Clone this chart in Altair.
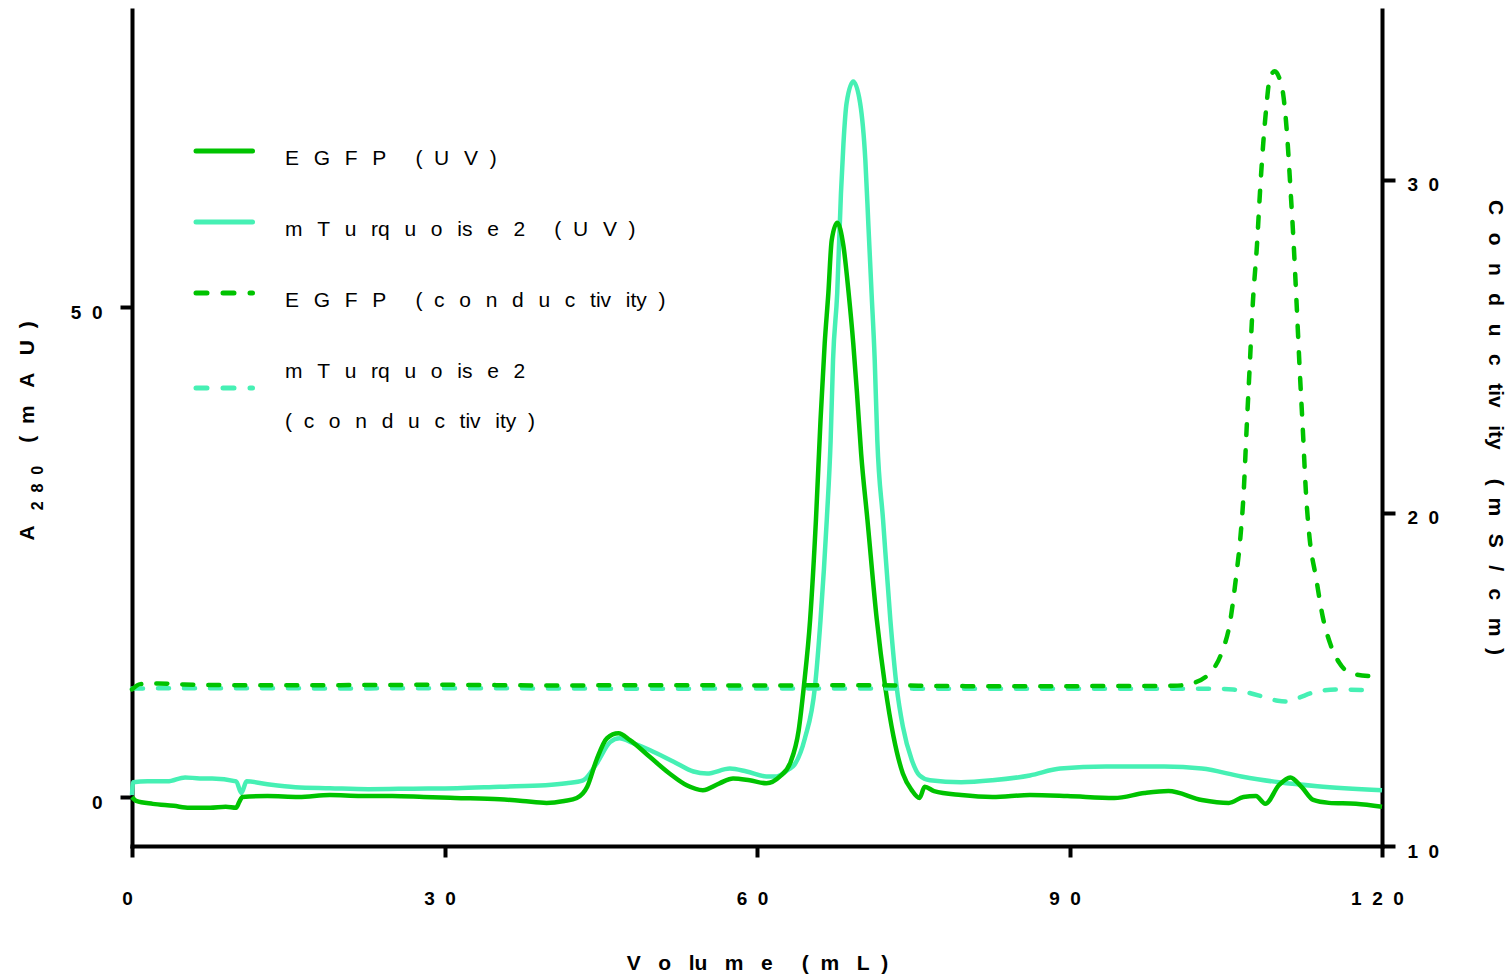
import altair as alt
import pandas as pd

# ---- elution traces -------------------------------------------------------
# EGFP absorbance at 280 nm (mAU) vs elution volume (mL)
egfp_uv_volume = [0.0, 0.4, 2.0, 4.0, 5.5, 7.5, 9.0, 10.0, 10.3, 10.6, 13, 16, 19, 22, 25, 28, 31,
                  35.3, 37.5, 39.8, 41.5, 42.7, 43.7, 44.6, 45.6, 46.7, 47.8, 49.7, 51.6, 53.25,
                  54.8, 56.4, 57.7, 59.3, 60.9, 62.2, 63.2, 64.0, 64.5, 65.1, 65.66, 66.1, 66.5,
                  66.85, 67.17, 67.7, 68.3, 68.8, 69.24, 69.6, 70.0, 70.6, 71.5, 72.3, 73.1, 74.0,
                  74.85, 75.6, 76.1, 77.0, 79.6, 82.6, 86.2, 89.8, 94.3, 97.2, 99.5, 102.7, 105.3,
                  106.7, 107.9, 108.8, 110.1, 111.2, 112.3, 113.4, 114.9, 117.5, 120.0]
egfp_uv_mau = [0.0, -0.4, -0.7, -0.9, -1.1, -1.1, -1.0, -1.1, -0.5, 0.0, 0.1, 0.0, 0.2, 0.1, 0.1,
               0.0, -0.1, -0.24, -0.4, -0.6, -0.4, -0.1, 1.05, 3.8, 6.0, 6.5, 5.8, 4.1, 2.4, 1.2,
               0.7, 1.4, 1.9, 1.7, 1.4, 2.1, 3.5, 6.8, 11.3, 18.1, 28.3, 38.5, 46.3, 51.4, 56.8,
               58.6, 56.2, 51.4, 46.3, 41.2, 35.0, 28.3, 18.1, 11.3, 6.2, 2.4, 0.7, -0.1, 1.05,
               0.6, 0.2, 0.0, 0.2, 0.1, -0.1, 0.4, 0.6, -0.3, -0.6, 0.0, 0.1, -0.7, 1.2, 2.0, 1.0,
               -0.3, -0.6, -0.7, -1.0]

# mTurquoise2 absorbance at 280 nm (mAU)
mturq_uv_volume = [0.0, 0.1, 1.5, 3.4, 5.1, 6.5, 7.7, 10.0, 10.5, 11.0, 13, 15.7, 19, 22.7, 27,
                   31.2, 35.3, 39.7, 41.7, 43.3, 44.6, 45.9, 46.8, 48.1, 49.7, 52.0, 53.9, 55.2,
                   57.4, 59.0, 60.9, 61.9, 63.0, 63.6, 64.6, 65.57, 66.1, 66.7, 67.07, 67.3, 67.7,
                   68.06, 68.3, 68.6, 69.24, 69.9, 70.4, 70.7, 71.0, 71.3, 71.55, 72.1, 72.8, 73.4,
                   74.0, 74.85, 75.6, 76.6, 79.6, 82.6, 86.2, 89.1, 93.5, 99.1, 102.7, 106.5,
                   110.1, 113.8, 120.0]
mturq_uv_mau = [0.2, 1.5, 1.6, 1.6, 2.0, 1.9, 1.9, 1.6, 0.4, 1.6, 1.3, 1.0, 0.9, 0.8, 0.85, 0.9,
                1.05, 1.2, 1.4, 1.7, 3.4, 5.6, 6.0, 5.5, 4.8, 3.6, 2.6, 2.4, 2.9, 2.6, 2.1, 2.1,
                2.8, 3.3, 6.0, 11.3, 18.1, 28.3, 36.4, 44.6, 51.4, 61.6, 66.7, 70.8, 73.0, 70.8,
                65.0, 58.2, 51.4, 44.6, 36.4, 28.3, 18.1, 11.3, 7.2, 3.8, 2.2, 1.7, 1.5, 1.7, 2.2,
                2.9, 3.1, 3.1, 2.9, 2.1, 1.5, 1.1, 0.7]

# EGFP conductivity (mS/cm)
egfp_cond_volume = [0.0, 0.8, 2.5, 5, 10, 20, 30, 40, 50, 60, 70, 80, 90, 100, 101.6, 103.5,
                    104.6, 105.4, 106.0, 106.4, 106.7, 107.0, 107.3, 107.6, 108.0, 108.3, 108.6,
                    108.9, 109.2, 109.7, 110.2, 110.5, 110.9, 111.2, 111.5, 111.8, 112.1, 112.4,
                    112.7, 113.0, 113.7, 114.3, 115.0, 115.9, 116.9, 118.8]
egfp_cond_mscm = [14.70, 14.86, 14.88, 14.85, 14.83, 14.83, 14.84, 14.82, 14.83, 14.82, 14.83,
                  14.80, 14.80, 14.81, 14.87, 15.2, 15.8, 16.7, 18.1, 19.25, 20.5, 22.5, 24.4,
                  26.3, 28.05, 29.7, 31.1, 32.2, 33.0, 33.26, 33.0, 32.6, 31.3, 29.8, 28.2, 26.3,
                  24.3, 22.5, 20.6, 19.4, 18.0, 16.9, 16.1, 15.5, 15.2, 15.1]

# mTurquoise2 conductivity (mS/cm)
mturq_cond_volume = [0, 10, 20, 30, 40, 50, 60, 70, 80, 90, 100, 104, 105.7, 107.2, 108.5, 110.0,
                     110.8, 112.0, 113.3, 115.6, 118.8]
mturq_cond_mscm = [14.73, 14.74, 14.73, 14.74, 14.73, 14.72, 14.73, 14.73, 14.72, 14.72, 14.72,
                   14.72, 14.70, 14.60, 14.49, 14.36, 14.34, 14.45, 14.60, 14.70, 14.67]

# ---- axes -----------------------------------------------------------------
x_ticks = [0, 30, 60, 90, 120]
uv_ticks = [0, 50]
cond_ticks = [10, 20, 30]
x_domain = [0, 120]
uv_domain = [-5.0, 80.3]
cond_domain = [10, 35.1]

x_title = "V o lu m e  (~m L~)"
cond_title = "C o n d u c tiv ity  (~m S / c m~)"
# left title pieces: symbol, subscript, unit
uv_title_parts = ["A", "2~8~0", "(~m A U~)"]

legend_labels = ["E G F P  (~U V~)",
                 "m T u rq u o is e 2  (~U V~)",
                 "E G F P  (~c o n d u c tiv ity~)",
                 "m T u rq u o is e 2",
                 "(~c o n d u c tiv ity~)"]

GREEN = "#00C300"
TURQ = "#46F0B4"
FONT = "Liberation Sans"
DASH_DATA = [11, 15]
DASH_KEY = [11, 16]

PLOT_W, PLOT_H = 1250, 836

NBSP = "\u00a0"


def spaced(text, gap=NBSP * 3, word=NBSP * 5, tight=NBSP * 2):
    """Widen text: ' ' -> gap, '  ' -> word, '~' -> tight."""
    return (text.replace("  ", "\x00").replace(" ", gap)
            .replace("\x00", word).replace("~", tight))


digit_expr = "join(split(datum.label, ''), '\u00a0\u00a0')"

common_axis = dict(
    labelExpr=digit_expr, labelFont=FONT, labelFontWeight="bold", labelFontSize=19,
    labelColor="black", labelFlush=False, labelOverlap=False,
    tickWidth=4, tickColor="black", domainWidth=4, domainColor="black", domainCap="square",
    titleFont=FONT, titleFontWeight="bold", titleFontSize=21, titleColor="black",
    titleAlign="center", titleBaseline="alphabetic", grid=False,
)

x_axis = alt.Axis(values=x_ticks, title=spaced(x_title), tickSize=11,
                  labelPadding=32, labelBaseline="top", labelOffset=-5,
                  titleX=PLOT_W / 2, titleY=123, **common_axis)
uv_axis = alt.Axis(values=uv_ticks, orient="left", title=None,
                   tickSize=12, labelPadding=18, labelBaseline="middle", labelOffset=6,
                   **common_axis)
cond_axis = alt.Axis(values=cond_ticks, orient="right", title=spaced(cond_title),
                     tickSize=13, labelPadding=12, labelBaseline="middle", labelOffset=5,
                     titleAngle=90, titleX=106, titleY=417, **common_axis)

x_enc = alt.X("volume:Q", scale=alt.Scale(domain=x_domain, nice=False, zero=False), axis=x_axis)


def trace(volume, values, field, color, scale_domain, axis, dash=None):
    df = pd.DataFrame({"volume": volume, field: values})
    mark = dict(color=color, strokeWidth=4.5, interpolate="monotone")
    if dash:
        mark.update(strokeDash=dash, strokeCap="round")
    return alt.Chart(df).mark_line(**mark).encode(
        x=x_enc,
        y=alt.Y(f"{field}:Q", scale=alt.Scale(domain=scale_domain, nice=False, zero=False),
                axis=axis),
    )


uv_layers = alt.layer(
    trace(mturq_uv_volume, mturq_uv_mau, "uv", TURQ, uv_domain, uv_axis),
    trace(egfp_uv_volume, egfp_uv_mau, "uv", GREEN, uv_domain, uv_axis),
)
cond_layers = alt.layer(
    trace(mturq_cond_volume, mturq_cond_mscm, "cond", TURQ, cond_domain, cond_axis, DASH_DATA),
    trace(egfp_cond_volume, egfp_cond_mscm, "cond", GREEN, cond_domain, cond_axis, DASH_DATA),
)
traces = alt.layer(uv_layers, cond_layers).resolve_scale(y="independent")

one_row = pd.DataFrame({"k": [0]})

# ---- left axis title with subscript (rotated text) --------------------------
uv_title_x = [-98, -89, -98]
uv_title_y = [523, 478, 372]
uv_title_size = [21, 16, 21]
uv_title = [
    alt.Chart(one_row).mark_text(text=spaced(t), font=FONT, fontWeight="bold", fontSize=s,
                                 angle=270, align="center", baseline="alphabetic",
                                 color="black").encode(x=alt.value(tx), y=alt.value(ty))
    for t, tx, ty, s in zip(uv_title_parts, uv_title_x, uv_title_y, uv_title_size)
]

# ---- key (drawn inside the plot, upper left) --------------------------------
key_colors = [GREEN, TURQ, GREEN, TURQ]
key_dashes = [None, None, DASH_KEY, DASH_KEY]
key_line_y = [141, 212, 283, 378]
key_text_y = [155, 226, 297, 368, 418]
key_gap = "\u2002\u2009"   # en space + thin space

key_parts = []
for col, dash, ly in zip(key_colors, key_dashes, key_line_y):
    mark = dict(color=col, strokeWidth=5, strokeCap="round")
    if dash:
        mark["strokeDash"] = dash
    key_parts.append(
        alt.Chart(one_row).mark_rule(**mark).encode(
            x=alt.value(64), x2=alt.value(120.5), y=alt.value(ly))
    )
for label, ty in zip(legend_labels, key_text_y):
    key_parts.append(
        alt.Chart(one_row).mark_text(text=spaced(label, gap=key_gap, word=NBSP * 5, tight=NBSP * 2),
                                     font=FONT, fontSize=21, align="left",
                                     baseline="alphabetic", color="black").encode(
            x=alt.value(153), y=alt.value(ty))
    )

chart = alt.layer(traces, *uv_title, *key_parts).properties(
    width=PLOT_W,
    height=PLOT_H,
    autosize=alt.AutoSizeParams(type="none"),
    padding={"left": 132, "top": 10, "right": 129, "bottom": 131},
    background="white",
).configure_view(stroke=None)

chart.save("out.html", embed_options={"renderer": "svg", "actions": False})
